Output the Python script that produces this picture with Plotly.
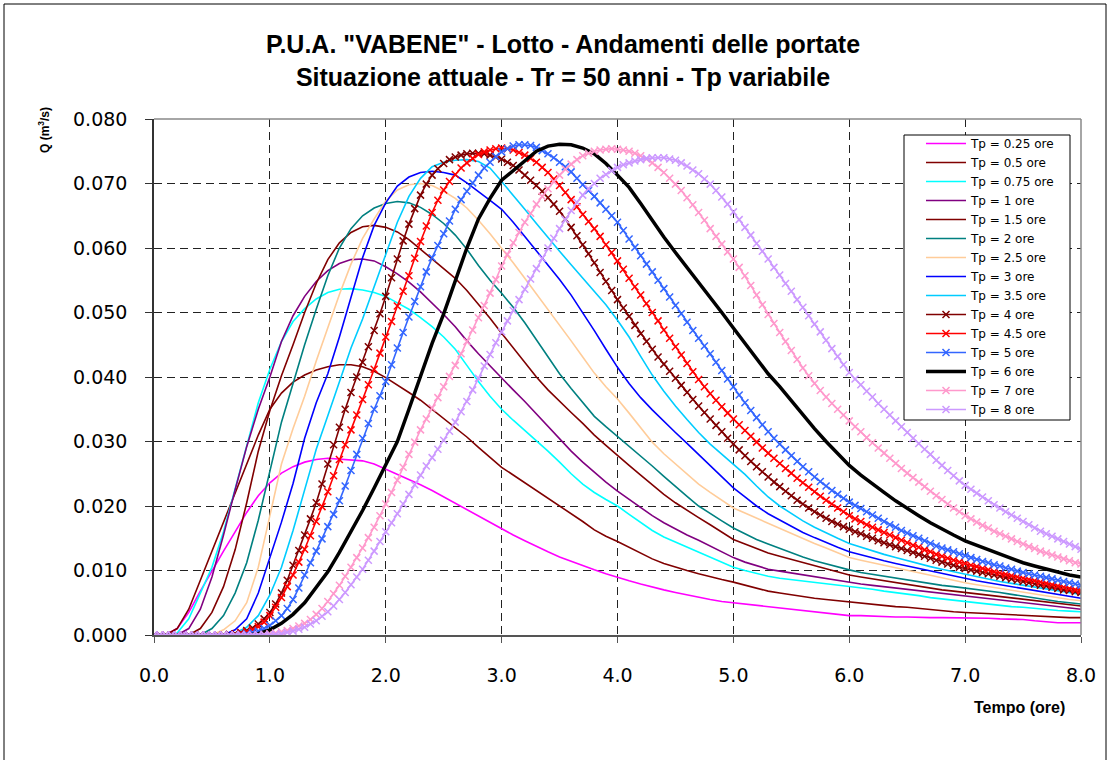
import plotly.graph_objects as go

# ---------------- time grids (hours) ----------------
TIME_01 = [round(i * 0.1, 2) for i in range(81)]     # lines without markers
TIME_005 = [round(i * 0.05, 2) for i in range(161)]  # series drawn with markers

# ---------------- discharge values Q (m3/s) ----------------
Q_TP_025 = [
    0.0, 0.0, 0.0010, 0.0035, 0.0068, 0.0100, 0.0130, 0.0160, 0.0190, 0.0216,
    0.0236, 0.0251, 0.0261, 0.0268, 0.0272, 0.0274, 0.0273, 0.0272, 0.0270, 0.0265,
    0.0257, 0.0250, 0.0242, 0.0233, 0.0224, 0.0214, 0.0204, 0.0194, 0.0184, 0.0174,
    0.0164, 0.0155, 0.0146, 0.0137, 0.0129, 0.0121, 0.0114, 0.0107, 0.0101, 0.0095,
    0.0089, 0.0084, 0.0079, 0.0074, 0.0070, 0.0066, 0.0062, 0.0058, 0.0055, 0.0052,
    0.0050, 0.0047, 0.0045, 0.0043, 0.0041, 0.0039, 0.0037, 0.0035, 0.0033, 0.0031,
    0.0030, 0.0030, 0.0029, 0.0029, 0.0028, 0.0028, 0.0027, 0.0027, 0.0027, 0.0027,
    0.0027, 0.0026, 0.0026, 0.0025, 0.0025, 0.0024, 0.0022, 0.0020, 0.0019, 0.0019,
    0.0019]

Q_TP_05 = [
    0.0, 0.0, 0.0010, 0.0040, 0.0085, 0.0130, 0.0175, 0.0220, 0.0265, 0.0310,
    0.0350, 0.0375, 0.0392, 0.0403, 0.0411, 0.0416, 0.0419, 0.0419, 0.0416, 0.0409,
    0.0399, 0.0388, 0.0376, 0.0364, 0.0350, 0.0336, 0.0322, 0.0307, 0.0291, 0.0276,
    0.0260, 0.0248, 0.0236, 0.0225, 0.0213, 0.0201, 0.0189, 0.0176, 0.0163, 0.0153,
    0.0145, 0.0136, 0.0127, 0.0118, 0.0111, 0.0105, 0.0100, 0.0095, 0.0090, 0.0086,
    0.0082, 0.0077, 0.0072, 0.0068, 0.0065, 0.0062, 0.0059, 0.0057, 0.0055, 0.0053,
    0.0051, 0.0049, 0.0047, 0.0046, 0.0044, 0.0043, 0.0041, 0.0039, 0.0038, 0.0036,
    0.0035, 0.0034, 0.0033, 0.0032, 0.0031, 0.0030, 0.0029, 0.0028, 0.0028, 0.0027,
    0.0027]

Q_TP_075 = [
    0.0, 0.0, 0.0003, 0.0025, 0.0065, 0.0105, 0.0160, 0.0225, 0.0293, 0.0360,
    0.0412, 0.0455, 0.0486, 0.0506, 0.0521, 0.0531, 0.0536, 0.0537, 0.0535, 0.0531,
    0.0525, 0.0515, 0.0505, 0.0492, 0.0478, 0.0462, 0.0443, 0.0418, 0.0393, 0.0370,
    0.0350, 0.0333, 0.0317, 0.0302, 0.0285, 0.0268, 0.0250, 0.0234, 0.0221, 0.0210,
    0.0200, 0.0187, 0.0174, 0.0162, 0.0152, 0.0144, 0.0136, 0.0128, 0.0120, 0.0112,
    0.0105, 0.0100, 0.0095, 0.0091, 0.0088, 0.0086, 0.0084, 0.0082, 0.0080, 0.0078,
    0.0076, 0.0073, 0.0071, 0.0068, 0.0066, 0.0063, 0.0061, 0.0058, 0.0056, 0.0053,
    0.0051, 0.0049, 0.0047, 0.0046, 0.0044, 0.0043, 0.0041, 0.0040, 0.0038, 0.0037,
    0.0036]

Q_TP_1 = [
    0.0, 0.0, 0.0, 0.0010, 0.0040, 0.0090, 0.0155, 0.0225, 0.0292, 0.0350,
    0.0400, 0.0455, 0.0495, 0.0525, 0.0548, 0.0565, 0.0576, 0.0582, 0.0583, 0.0580,
    0.0571, 0.0560, 0.0547, 0.0532, 0.0515, 0.0497, 0.0478, 0.0456, 0.0436, 0.0417,
    0.0398, 0.0380, 0.0362, 0.0343, 0.0323, 0.0304, 0.0285, 0.0268, 0.0252, 0.0237,
    0.0223, 0.0210, 0.0197, 0.0185, 0.0174, 0.0164, 0.0155, 0.0147, 0.0138, 0.0129,
    0.0120, 0.0113, 0.0107, 0.0102, 0.0099, 0.0096, 0.0093, 0.0090, 0.0087, 0.0084,
    0.0081, 0.0079, 0.0077, 0.0075, 0.0073, 0.0071, 0.0069, 0.0067, 0.0065, 0.0063,
    0.0061, 0.0059, 0.0057, 0.0055, 0.0053, 0.0051, 0.0049, 0.0046, 0.0044, 0.0042,
    0.0040]

Q_TP_15 = [
    0.0, 0.0, 0.0, 0.0, 0.0010, 0.0035, 0.0075, 0.0132, 0.0205, 0.0285,
    0.0348, 0.0402, 0.0450, 0.0500, 0.0545, 0.0582, 0.0608, 0.0624, 0.0633, 0.0635,
    0.0632, 0.0625, 0.0613, 0.0598, 0.0583, 0.0568, 0.0553, 0.0534, 0.0513, 0.0491,
    0.0468, 0.0445, 0.0422, 0.0400, 0.0380, 0.0362, 0.0345, 0.0328, 0.0310, 0.0294,
    0.0278, 0.0263, 0.0248, 0.0233, 0.0218, 0.0205, 0.0193, 0.0182, 0.0171, 0.0159,
    0.0148, 0.0141, 0.0134, 0.0127, 0.0122, 0.0117, 0.0112, 0.0107, 0.0102, 0.0097,
    0.0093, 0.0090, 0.0087, 0.0084, 0.0081, 0.0078, 0.0075, 0.0073, 0.0070, 0.0068,
    0.0066, 0.0064, 0.0062, 0.0060, 0.0058, 0.0056, 0.0053, 0.0051, 0.0049, 0.0047,
    0.0045]

Q_TP_2 = [
    0.0, 0.0, 0.0, 0.0, 0.0, 0.0010, 0.0030, 0.0065, 0.0112, 0.0178,
    0.0255, 0.0330, 0.0390, 0.0450, 0.0505, 0.0557, 0.0600, 0.0630, 0.0650, 0.0662,
    0.0669, 0.0672, 0.0670, 0.0663, 0.0652, 0.0638, 0.0620, 0.0598, 0.0573, 0.0550,
    0.0530, 0.0508, 0.0484, 0.0458, 0.0430, 0.0405, 0.0382, 0.0360, 0.0339, 0.0323,
    0.0308, 0.0292, 0.0277, 0.0262, 0.0246, 0.0230, 0.0215, 0.0200, 0.0188, 0.0177,
    0.0166, 0.0157, 0.0148, 0.0141, 0.0134, 0.0127, 0.0121, 0.0115, 0.0110, 0.0105,
    0.0101, 0.0097, 0.0094, 0.0091, 0.0088, 0.0085, 0.0082, 0.0080, 0.0077, 0.0075,
    0.0073, 0.0070, 0.0068, 0.0066, 0.0063, 0.0060, 0.0058, 0.0055, 0.0052, 0.0050,
    0.0048]

Q_TP_25 = [
    0.0, 0.0, 0.0, 0.0, 0.0, 0.0, 0.0008, 0.0022, 0.0050, 0.0105,
    0.0185, 0.0265, 0.0320, 0.0370, 0.0425, 0.0478, 0.0528, 0.0575, 0.0615, 0.0645,
    0.0673, 0.0690, 0.0698, 0.0700, 0.0697, 0.0688, 0.0677, 0.0662, 0.0643, 0.0622,
    0.0600, 0.0577, 0.0553, 0.0529, 0.0505, 0.0481, 0.0456, 0.0431, 0.0406, 0.0385,
    0.0366, 0.0344, 0.0321, 0.0299, 0.0281, 0.0265, 0.0249, 0.0234, 0.0221, 0.0209,
    0.0197, 0.0189, 0.0181, 0.0174, 0.0166, 0.0158, 0.0150, 0.0142, 0.0135, 0.0128,
    0.0120, 0.0116, 0.0112, 0.0108, 0.0104, 0.0100, 0.0097, 0.0093, 0.0089, 0.0085,
    0.0081, 0.0078, 0.0075, 0.0072, 0.0069, 0.0066, 0.0063, 0.0060, 0.0057, 0.0055,
    0.0053]

Q_TP_3 = [
    0.0, 0.0, 0.0, 0.0, 0.0, 0.0, 0.0, 0.0008, 0.0025, 0.0065,
    0.0120, 0.0175, 0.0235, 0.0305, 0.0360, 0.0405, 0.0462, 0.0525, 0.0585, 0.0635,
    0.0670, 0.0696, 0.0710, 0.0717, 0.0719, 0.0717, 0.0713, 0.0701, 0.0688, 0.0674,
    0.0660, 0.0640, 0.0618, 0.0596, 0.0574, 0.0551, 0.0527, 0.0500, 0.0472, 0.0443,
    0.0415, 0.0390, 0.0368, 0.0349, 0.0331, 0.0314, 0.0297, 0.0280, 0.0262, 0.0245,
    0.0228, 0.0214, 0.0200, 0.0188, 0.0178, 0.0168, 0.0159, 0.0151, 0.0143, 0.0136,
    0.0129, 0.0124, 0.0119, 0.0115, 0.0111, 0.0107, 0.0103, 0.0099, 0.0095, 0.0091,
    0.0087, 0.0084, 0.0081, 0.0078, 0.0075, 0.0072, 0.0069, 0.0066, 0.0063, 0.0060,
    0.0057]

Q_TP_35 = [
    0.0, 0.0, 0.0, 0.0, 0.0, 0.0, 0.0, 0.0003, 0.0012, 0.0030,
    0.0062, 0.0105, 0.0162, 0.0225, 0.0288, 0.0340, 0.0393, 0.0445, 0.0490, 0.0540,
    0.0593, 0.0640, 0.0680, 0.0708, 0.0726, 0.0733, 0.0736, 0.0737, 0.0734, 0.0724,
    0.0703, 0.0682, 0.0660, 0.0638, 0.0616, 0.0595, 0.0574, 0.0553, 0.0533, 0.0512,
    0.0488, 0.0462, 0.0432, 0.0403, 0.0378, 0.0355, 0.0334, 0.0314, 0.0296, 0.0280,
    0.0264, 0.0249, 0.0231, 0.0214, 0.0200, 0.0188, 0.0177, 0.0167, 0.0158, 0.0150,
    0.0142, 0.0136, 0.0130, 0.0125, 0.0120, 0.0115, 0.0111, 0.0106, 0.0102, 0.0098,
    0.0094, 0.0090, 0.0086, 0.0083, 0.0080, 0.0077, 0.0074, 0.0071, 0.0068, 0.0065,
    0.0063]

Q_TP_4 = [
    0.0, 0.0, 0.0, 0.0, 0.0, 0.0, 0.0, 0.0, 0.0, 0.0,
    0.0, 0.0, 0.0, 0.0001, 0.0002, 0.0004, 0.0007, 0.0011, 0.0017, 0.0025,
    0.0035, 0.0048, 0.0065, 0.0085, 0.0108, 0.0131, 0.0155, 0.0180, 0.0205, 0.0234,
    0.0265, 0.0295, 0.0322, 0.0350, 0.0376, 0.0400, 0.0423, 0.0447, 0.0472, 0.0498,
    0.0525, 0.0554, 0.0583, 0.0611, 0.0637, 0.0661, 0.0682, 0.0699, 0.0713, 0.0723,
    0.0731, 0.0737, 0.0741, 0.0744, 0.0746, 0.0747, 0.0747, 0.0746, 0.0744, 0.0741,
    0.0738, 0.0733, 0.0728, 0.0721, 0.0713, 0.0705, 0.0697, 0.0688, 0.0678, 0.0668,
    0.0657, 0.0645, 0.0632, 0.0619, 0.0605, 0.0591, 0.0577, 0.0562, 0.0548, 0.0534,
    0.0520, 0.0507, 0.0494, 0.0480, 0.0467, 0.0455, 0.0443, 0.0431, 0.0420, 0.0409,
    0.0398, 0.0387, 0.0376, 0.0365, 0.0355, 0.0345, 0.0335, 0.0325, 0.0315, 0.0305,
    0.0296, 0.0287, 0.0278, 0.0269, 0.0261, 0.0253, 0.0245, 0.0237, 0.0230, 0.0223,
    0.0216, 0.0209, 0.0203, 0.0197, 0.0191, 0.0186, 0.0181, 0.0176, 0.0172, 0.0168,
    0.0164, 0.0160, 0.0157, 0.0153, 0.0150, 0.0146, 0.0143, 0.0140, 0.0137, 0.0134,
    0.0131, 0.0128, 0.0125, 0.0122, 0.0119, 0.0116, 0.0113, 0.0110, 0.0108, 0.0105,
    0.0103, 0.0101, 0.0099, 0.0097, 0.0095, 0.0093, 0.0091, 0.0089, 0.0087, 0.0085,
    0.0083, 0.0081, 0.0079, 0.0077, 0.0076, 0.0074, 0.0072, 0.0070, 0.0069, 0.0067,
    0.0066]

Q_TP_45 = [
    0.0, 0.0, 0.0, 0.0, 0.0, 0.0, 0.0, 0.0, 0.0, 0.0,
    0.0, 0.0, 0.0, 0.0, 0.0001, 0.0003, 0.0005, 0.0008, 0.0013, 0.0020,
    0.0030, 0.0043, 0.0058, 0.0075, 0.0093, 0.0113, 0.0133, 0.0154, 0.0176, 0.0199,
    0.0222, 0.0247, 0.0272, 0.0295, 0.0318, 0.0341, 0.0365, 0.0388, 0.0412, 0.0437,
    0.0462, 0.0486, 0.0510, 0.0533, 0.0557, 0.0584, 0.0610, 0.0634, 0.0655, 0.0674,
    0.0690, 0.0703, 0.0714, 0.0724, 0.0732, 0.0739, 0.0745, 0.0749, 0.0752, 0.0754,
    0.0755, 0.0754, 0.0752, 0.0748, 0.0744, 0.0739, 0.0733, 0.0725, 0.0717, 0.0707,
    0.0697, 0.0686, 0.0675, 0.0664, 0.0652, 0.0641, 0.0630, 0.0618, 0.0605, 0.0593,
    0.0580, 0.0567, 0.0553, 0.0540, 0.0527, 0.0514, 0.0500, 0.0487, 0.0473, 0.0460,
    0.0447, 0.0434, 0.0421, 0.0408, 0.0396, 0.0385, 0.0374, 0.0364, 0.0354, 0.0344,
    0.0335, 0.0326, 0.0317, 0.0308, 0.0299, 0.0290, 0.0282, 0.0274, 0.0266, 0.0258,
    0.0251, 0.0243, 0.0236, 0.0229, 0.0222, 0.0215, 0.0209, 0.0203, 0.0197, 0.0191,
    0.0185, 0.0180, 0.0176, 0.0171, 0.0167, 0.0163, 0.0159, 0.0155, 0.0151, 0.0147,
    0.0143, 0.0139, 0.0136, 0.0132, 0.0129, 0.0125, 0.0122, 0.0119, 0.0116, 0.0113,
    0.0111, 0.0108, 0.0106, 0.0103, 0.0101, 0.0098, 0.0096, 0.0094, 0.0092, 0.0090,
    0.0088, 0.0086, 0.0084, 0.0082, 0.0080, 0.0078, 0.0076, 0.0074, 0.0072, 0.0070,
    0.0069]

Q_TP_5 = [
    0.0, 0.0, 0.0, 0.0, 0.0, 0.0, 0.0, 0.0, 0.0, 0.0,
    0.0, 0.0, 0.0, 0.0, 0.0000, 0.0001, 0.0002, 0.0004, 0.0006, 0.0010,
    0.0015, 0.0022, 0.0030, 0.0041, 0.0055, 0.0073, 0.0093, 0.0112, 0.0130, 0.0149,
    0.0168, 0.0187, 0.0208, 0.0231, 0.0255, 0.0280, 0.0305, 0.0328, 0.0350, 0.0371,
    0.0393, 0.0419, 0.0445, 0.0469, 0.0493, 0.0517, 0.0540, 0.0563, 0.0585, 0.0604,
    0.0622, 0.0642, 0.0660, 0.0675, 0.0688, 0.0701, 0.0713, 0.0724, 0.0733, 0.0742,
    0.0749, 0.0754, 0.0758, 0.0760, 0.0760, 0.0759, 0.0756, 0.0751, 0.0746, 0.0740,
    0.0733, 0.0726, 0.0718, 0.0708, 0.0698, 0.0689, 0.0680, 0.0670, 0.0660, 0.0650,
    0.0640, 0.0627, 0.0614, 0.0601, 0.0588, 0.0575, 0.0563, 0.0550, 0.0537, 0.0524,
    0.0511, 0.0498, 0.0485, 0.0472, 0.0460, 0.0448, 0.0436, 0.0423, 0.0410, 0.0397,
    0.0385, 0.0372, 0.0360, 0.0348, 0.0337, 0.0326, 0.0315, 0.0305, 0.0296, 0.0287,
    0.0278, 0.0269, 0.0261, 0.0253, 0.0245, 0.0238, 0.0231, 0.0224, 0.0218, 0.0212,
    0.0206, 0.0201, 0.0196, 0.0191, 0.0186, 0.0181, 0.0176, 0.0171, 0.0167, 0.0162,
    0.0158, 0.0154, 0.0150, 0.0146, 0.0142, 0.0138, 0.0135, 0.0132, 0.0129, 0.0126,
    0.0123, 0.0120, 0.0117, 0.0114, 0.0112, 0.0109, 0.0107, 0.0104, 0.0102, 0.0099,
    0.0097, 0.0095, 0.0093, 0.0091, 0.0089, 0.0087, 0.0085, 0.0083, 0.0081, 0.0079,
    0.0077]

Q_TP_6 = [
    0.0, 0.0, 0.0, 0.0, 0.0, 0.0, 0.0, 0.0, 0.0, 0.0002,
    0.0008, 0.0018, 0.0032, 0.0050, 0.0073, 0.0098, 0.0128, 0.0160, 0.0193, 0.0228,
    0.0263, 0.0300, 0.0350, 0.0403, 0.0452, 0.0498, 0.0548, 0.0600, 0.0645, 0.0677,
    0.0705, 0.0720, 0.0736, 0.0750, 0.0758, 0.0761, 0.0760, 0.0755, 0.0746, 0.0731,
    0.0713, 0.0694, 0.0669, 0.0642, 0.0617, 0.0593, 0.0570, 0.0548, 0.0524, 0.0500,
    0.0476, 0.0452, 0.0428, 0.0405, 0.0385, 0.0363, 0.0341, 0.0320, 0.0300, 0.0281,
    0.0263, 0.0248, 0.0234, 0.0221, 0.0208, 0.0196, 0.0185, 0.0174, 0.0164, 0.0155,
    0.0146, 0.0139, 0.0132, 0.0125, 0.0118, 0.0112, 0.0107, 0.0102, 0.0097, 0.0093,
    0.0090]

Q_TP_7 = [
    0.0, 0.0, 0.0, 0.0, 0.0, 0.0, 0.0, 0.0, 0.0, 0.0,
    0.0, 0.0, 0.0, 0.0, 0.0, 0.0, 0.0, 0.0, 0.0, 0.0001,
    0.0002, 0.0003, 0.0005, 0.0007, 0.0010, 0.0014, 0.0018, 0.0024, 0.0032, 0.0041,
    0.0052, 0.0064, 0.0077, 0.0091, 0.0105, 0.0120, 0.0135, 0.0151, 0.0167, 0.0185,
    0.0203, 0.0221, 0.0240, 0.0260, 0.0280, 0.0299, 0.0318, 0.0335, 0.0352, 0.0368,
    0.0385, 0.0401, 0.0418, 0.0436, 0.0455, 0.0473, 0.0492, 0.0511, 0.0530, 0.0551,
    0.0572, 0.0590, 0.0608, 0.0624, 0.0640, 0.0654, 0.0668, 0.0680, 0.0692, 0.0703,
    0.0713, 0.0722, 0.0730, 0.0737, 0.0743, 0.0747, 0.0750, 0.0752, 0.0753, 0.0754,
    0.0753, 0.0752, 0.0750, 0.0747, 0.0743, 0.0738, 0.0732, 0.0725, 0.0717, 0.0708,
    0.0699, 0.0689, 0.0678, 0.0667, 0.0655, 0.0643, 0.0630, 0.0618, 0.0606, 0.0594,
    0.0583, 0.0570, 0.0557, 0.0542, 0.0527, 0.0512, 0.0497, 0.0483, 0.0469, 0.0455,
    0.0441, 0.0427, 0.0414, 0.0402, 0.0390, 0.0379, 0.0369, 0.0359, 0.0350, 0.0341,
    0.0332, 0.0323, 0.0315, 0.0306, 0.0298, 0.0290, 0.0282, 0.0274, 0.0266, 0.0258,
    0.0251, 0.0244, 0.0237, 0.0230, 0.0223, 0.0216, 0.0210, 0.0203, 0.0197, 0.0191,
    0.0185, 0.0180, 0.0175, 0.0170, 0.0166, 0.0161, 0.0157, 0.0153, 0.0149, 0.0145,
    0.0141, 0.0137, 0.0134, 0.0130, 0.0127, 0.0124, 0.0121, 0.0118, 0.0115, 0.0112,
    0.0110]

Q_TP_8 = [
    0.0, 0.0, 0.0, 0.0, 0.0, 0.0, 0.0, 0.0, 0.0, 0.0,
    0.0, 0.0, 0.0, 0.0, 0.0, 0.0, 0.0, 0.0, 0.0, 0.0,
    0.0, 0.0001, 0.0002, 0.0004, 0.0006, 0.0009, 0.0012, 0.0017, 0.0022, 0.0029,
    0.0036, 0.0045, 0.0055, 0.0066, 0.0078, 0.0090, 0.0102, 0.0116, 0.0130, 0.0145,
    0.0160, 0.0174, 0.0188, 0.0203, 0.0218, 0.0233, 0.0248, 0.0262, 0.0275, 0.0288,
    0.0302, 0.0316, 0.0330, 0.0346, 0.0362, 0.0380, 0.0398, 0.0417, 0.0435, 0.0453,
    0.0470, 0.0487, 0.0503, 0.0520, 0.0536, 0.0552, 0.0568, 0.0584, 0.0600, 0.0615,
    0.0630, 0.0644, 0.0658, 0.0671, 0.0682, 0.0692, 0.0700, 0.0708, 0.0714, 0.0720,
    0.0725, 0.0729, 0.0732, 0.0735, 0.0737, 0.0739, 0.0740, 0.0740, 0.0740, 0.0738,
    0.0736, 0.0732, 0.0727, 0.0721, 0.0715, 0.0707, 0.0699, 0.0689, 0.0679, 0.0668,
    0.0656, 0.0644, 0.0632, 0.0620, 0.0607, 0.0595, 0.0583, 0.0570, 0.0558, 0.0545,
    0.0533, 0.0520, 0.0508, 0.0495, 0.0482, 0.0470, 0.0457, 0.0444, 0.0432, 0.0419,
    0.0407, 0.0397, 0.0388, 0.0378, 0.0369, 0.0359, 0.0350, 0.0341, 0.0332, 0.0323,
    0.0314, 0.0305, 0.0297, 0.0288, 0.0280, 0.0271, 0.0263, 0.0255, 0.0247, 0.0239,
    0.0232, 0.0226, 0.0220, 0.0214, 0.0208, 0.0202, 0.0197, 0.0191, 0.0186, 0.0181,
    0.0176, 0.0171, 0.0166, 0.0161, 0.0157, 0.0153, 0.0149, 0.0145, 0.0141, 0.0137,
    0.0133]

LEGEND_NAMES = ["Tp = 0.25 ore", "Tp = 0.5 ore", "Tp = 0.75 ore", "Tp = 1 ore",
                "Tp = 1.5 ore", "Tp = 2 ore", "Tp = 2.5 ore", "Tp = 3 ore",
                "Tp = 3.5 ore", "Tp = 4 ore", "Tp = 4.5 ore", "Tp = 5 ore",
                "Tp = 6 ore", "Tp = 7 ore", "Tp = 8 ore"]
SERIES_VALUES = [Q_TP_025, Q_TP_05, Q_TP_075, Q_TP_1, Q_TP_15, Q_TP_2, Q_TP_25,
                 Q_TP_3, Q_TP_35, Q_TP_4, Q_TP_45, Q_TP_5, Q_TP_6, Q_TP_7, Q_TP_8]
X_TICKS = [0, 1, 2, 3, 4, 5, 6, 7, 8]
Y_TICKS = [0.0, 0.01, 0.02, 0.03, 0.04, 0.05, 0.06, 0.07, 0.08]

# ---------------- styles ----------------
STYLES = [
    dict(color="#FF00FF", width=1.6, marker=False),
    dict(color="#800000", width=1.6, marker=False),
    dict(color="#00FFFF", width=1.6, marker=False),
    dict(color="#800080", width=1.6, marker=False),
    dict(color="#800000", width=1.6, marker=False),
    dict(color="#008080", width=1.6, marker=False),
    dict(color="#FFCC99", width=1.6, marker=False),
    dict(color="#0000FF", width=1.6, marker=False),
    dict(color="#00CCFF", width=1.6, marker=False),
    dict(color="#800000", width=1.6, marker=True),
    dict(color="#FF0000", width=1.6, marker=True),
    dict(color="#3366FF", width=1.6, marker=True),
    dict(color="#000000", width=3.5, marker=False),
    dict(color="#FF99CC", width=1.6, marker=True),
    dict(color="#CC99FF", width=1.6, marker=True),
]

fig = go.Figure()
for name, values, st in zip(LEGEND_NAMES, SERIES_VALUES, STYLES):
    times = TIME_005 if len(values) == len(TIME_005) else TIME_01
    assert len(values) == len(times), name
    if st["marker"]:
        fig.add_trace(go.Scatter(
            x=times, y=values, name=name, mode="lines+markers",
            line=dict(color=st["color"], width=st["width"]),
            marker=dict(symbol="x-thin", size=7,
                        line=dict(color=st["color"], width=1.5))))
    else:
        fig.add_trace(go.Scatter(
            x=times, y=values, name=name, mode="lines",
            line=dict(color=st["color"], width=st["width"])))

W, H = 1111, 760
ML, MR, MT, MB = 154, 30, 119, 125
PW, PH = W - ML - MR, H - MT - MB


def px(xpix):
    return (xpix - ML) / PW


def py(ypix):
    return (H - MB - ypix) / PH


TICK_FONT = dict(family="DejaVu Sans", size=19, color="black")

fig.update_layout(
    width=W, height=H,
    margin=dict(l=ML, r=MR, t=MT, b=MB),
    paper_bgcolor="white", plot_bgcolor="white",
    title=dict(
        text="P.U.A. \"VABENE\" - Lotto - Andamenti delle portate<br>"
             "Situazione attuale - Tr = 50 anni - Tp variabile",
        font=dict(family="Liberation Sans, Arial", size=25,
                  color="black", weight="bold"),
        x=563 / W, xanchor="center", xref="container",
        y=1 - 53 / H, yanchor="top", yref="container"),
    xaxis=dict(range=[0, 8], tickvals=X_TICKS, tickformat=".1f",
               showgrid=True, gridcolor="#222222", griddash="8px,5px", gridwidth=1,
               zeroline=False, showline=True, linecolor="#555555", linewidth=1.5,
               ticks="outside", ticklen=6, tickcolor="#555555",
               tickfont=TICK_FONT, ticklabelstandoff=16),
    yaxis=dict(range=[0, 0.08], tickvals=Y_TICKS, tickformat=".3f",
               showgrid=True, gridcolor="#222222", griddash="8px,5px", gridwidth=1,
               zeroline=False, showline=True, linecolor="#333333", linewidth=1.5,
               ticks="outside", ticklen=7, tickcolor="#333333",
               tickfont=TICK_FONT, ticklabelstandoff=14),
    legend=dict(x=px(921), y=py(129), xanchor="left", yanchor="top",
                bgcolor="rgba(0,0,0,0)", borderwidth=0,
                font=dict(family="DejaVu Sans", size=12, color="black"),
                tracegroupgap=0, itemwidth=40),
    showlegend=True,
    shapes=[
        # top and right frame of the plot area
        dict(type="line", xref="paper", yref="paper", x0=0, x1=1, y0=1, y1=1,
             line=dict(color="#888888", width=1.5)),
        dict(type="line", xref="paper", yref="paper", x0=1, x1=1, y0=0, y1=1,
             line=dict(color="#888888", width=1.5)),
        # legend box
        dict(type="rect", xref="paper", yref="paper",
             x0=px(904), x1=px(1070), y0=py(135), y1=py(420),
             line=dict(color="black", width=1), fillcolor="white", layer="above"),
        # outer chart border
        dict(type="rect", xref="paper", yref="paper",
             x0=px(4), x1=px(1106), y0=py(4), y1=py(790),
             line=dict(color="black", width=1), layer="below"),
    ],
    annotations=[
        dict(text="<b>Q (m<sup>3</sup>/s)</b>", xref="paper", yref="paper",
             x=px(44), y=py(130), textangle=-90, showarrow=False,
             xanchor="center", yanchor="middle",
             font=dict(family="Liberation Sans, Arial", size=12, color="black")),
        dict(text="<b>Tempo (ore)</b>", xref="paper", yref="paper",
             x=px(1019), y=py(707), showarrow=False,
             xanchor="center", yanchor="middle",
             font=dict(family="Liberation Sans, Arial", size=16, color="black")),
    ],
)

fig.write_html("out.html")
